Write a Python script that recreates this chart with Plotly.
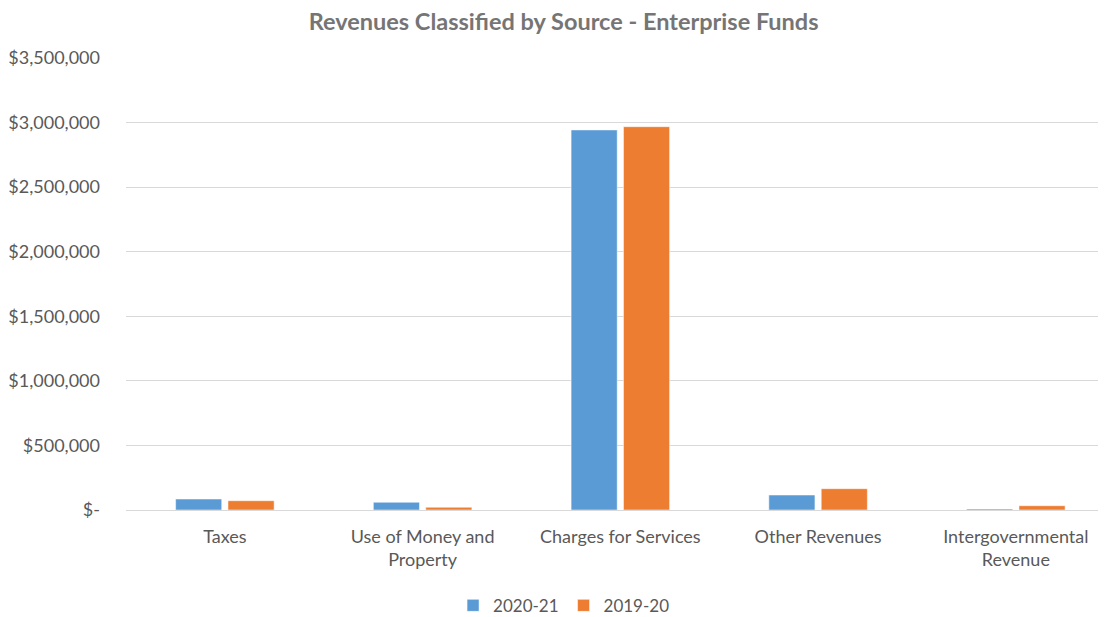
import plotly.graph_objects as go

categories = ["Taxes", "Use of Money and<br>Property", "Charges for Services", "Other Revenues", "Intergovernmental<br>Revenue"]
series_2021 = [85000, 60000, 2943000, 116000, 8000]
series_1920 = [72000, 21000, 2968000, 165000, 33000]
tick_vals = [0, 500000, 1000000, 1500000, 2000000, 2500000, 3000000, 3500000]
tick_text = ["$-", "$500,000", "$1,000,000", "$1,500,000", "$2,000,000", "$2,500,000", "$3,000,000", "$3,500,000"]

font_family = "Lato, 'Open Sans', sans-serif"
gray = "#595959"

fig = go.Figure()
fig.add_trace(go.Bar(x=categories, y=series_2021, name="2020-21", marker=dict(color="#5b9bd5", line=dict(color="#ffffff", width=0.5))))
fig.add_trace(go.Bar(x=categories, y=series_1920, name="2019-20", marker=dict(color="#ed7d31", line=dict(color="#ffffff", width=0.5))))

fig.update_layout(
    width=1098, height=609,
    paper_bgcolor="white", plot_bgcolor="white",
    margin=dict(l=118, r=0, t=50, b=107, autoexpand=False),
    barmode="group", bargap=0.47, bargroupgap=0.12,
    title=dict(text="<b>Revenues Classified by Source - Enterprise Funds</b>", x=0.506, xanchor="center", y=0.978, yanchor="middle",
               font=dict(family=font_family, size=23.5, color="#757575")),
    font=dict(family=font_family, size=18, color=gray),
    legend=dict(orientation="h", x=0.447, xanchor="center", y=-0.212, yanchor="middle", font=dict(size=17, color=gray),
                itemwidth=30, traceorder="normal"),
    xaxis=dict(range=[-0.5, 4.456], showgrid=False, showline=False, ticks="", automargin=False, ticklabelstandoff=14,
               tickfont=dict(size=18, color=gray)),
    yaxis=dict(range=[0, 3500000], tickvals=tick_vals, ticktext=tick_text, showgrid=True, gridcolor="#d9d9d9", gridwidth=1,
               zeroline=True, zerolinecolor="#d9d9d9", zerolinewidth=1, ticks="", ticklen=0, automargin=False,
               ticklabelstandoff=25, tickfont=dict(size=18, color=gray)),
)

fig.write_html("out.html")
